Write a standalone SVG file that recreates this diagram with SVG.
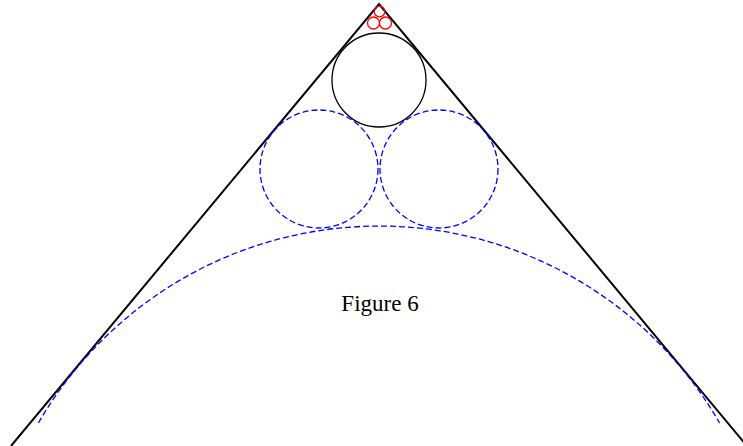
<svg xmlns="http://www.w3.org/2000/svg" width="743" height="446" viewBox="0 0 743 446">
<style>
.side{stroke:#000;stroke-width:2;fill:none}
.solid{stroke:#000;stroke-width:1.3;fill:none}
.dash{stroke:#00f;stroke-width:1.3;fill:none;stroke-dasharray:6,3}
.red{stroke:#f00;stroke-width:1.3;fill:none}
text{font-family:"Liberation Serif","Times New Roman",serif;font-size:23px;fill:#000}
</style>
<rect width="743" height="446" fill="#fff"/>
<g id="triangle"><path class="side" d="M11,446 L379,4 L747,446"/></g>
<g id="big-circle"><path class="dash" d="M38.4,423 A393,393 0 0 1 719.6,423"/></g>
<g id="blue-left"><circle class="dash" cx="319" cy="169" r="59"/></g>
<g id="blue-right"><circle class="dash" cx="439" cy="169" r="59"/></g>
<g id="black-circle"><circle class="solid" cx="379" cy="80" r="47"/></g>
<g id="red-top"><circle class="red" cx="379.5" cy="11.5" r="5.3"/></g>
<g id="red-left"><circle class="red" cx="373.5" cy="23" r="6"/></g>
<g id="red-right"><circle class="red" cx="385.5" cy="23" r="6"/></g>
<g id="label"><text x="380" y="311" text-anchor="middle">Figure 6</text></g>
</svg>
